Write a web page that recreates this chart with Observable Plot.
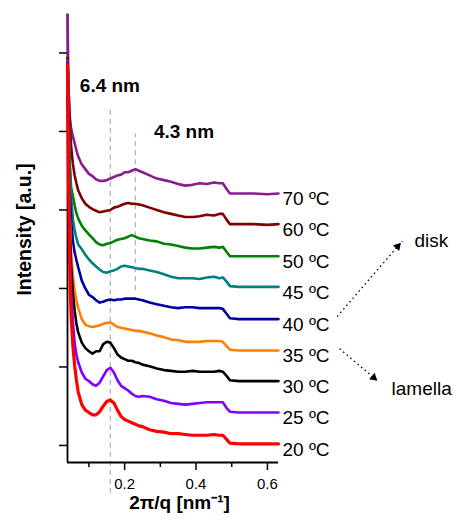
<!DOCTYPE html>
<html><head><meta charset="utf-8">
<script src="https://cdn.jsdelivr.net/npm/d3@7"></script>
<script src="https://cdn.jsdelivr.net/npm/@observablehq/plot@0.6"></script>
<style>body{margin:0;background:#fff}</style>
</head><body><div id="chart"></div>
<script>
// scattering vector axis (2π/q, nm^-1)
const q = [0.040, 0.043, 0.046, 0.050, 0.055, 0.060, 0.065, 0.070, 0.080, 0.090, 0.100, 0.110, 0.120, 0.130, 0.140, 0.150, 0.160, 0.170, 0.180, 0.190, 0.200, 0.210, 0.220, 0.230, 0.240, 0.250, 0.270, 0.290, 0.310, 0.330, 0.350, 0.370, 0.390, 0.410, 0.430, 0.450, 0.465, 0.475, 0.485, 0.495, 0.520, 0.560, 0.600, 0.631];

const temps = ["70 ºC", "60 ºC", "50 ºC", "45 ºC", "40 ºC", "35 ºC", "30 ºC", "25 ºC", "20 ºC"];
const colors = ["#8b1c8f", "#800000", "#008000", "#008080", "#0000a0", "#ff8000", "#000000", "#8000ff", "#ff0000"];

// intensities (a.u., stacked), one array per temperature
const I70 = [5.49, 4.52, 4.20, 4.04, 3.94, 3.85, 3.76, 3.68, 3.58, 3.52, 3.46, 3.43, 3.39, 3.37, 3.37, 3.38, 3.40, 3.42, 3.44, 3.45, 3.48, 3.48, 3.50, 3.52, 3.50, 3.48, 3.44, 3.40, 3.38, 3.36, 3.33, 3.31, 3.32, 3.34, 3.33, 3.35, 3.34, 3.34, 3.27, 3.21, 3.21, 3.21, 3.20, 3.21];
const I60 = [4.94, 4.52, 4.14, 3.82, 3.59, 3.44, 3.34, 3.25, 3.15, 3.08, 3.04, 3.01, 2.99, 2.97, 2.98, 2.99, 3.00, 3.03, 3.04, 3.06, 3.08, 3.09, 3.08, 3.08, 3.07, 3.06, 3.03, 3.00, 2.97, 2.95, 2.93, 2.91, 2.91, 2.92, 2.94, 2.93, 2.95, 2.95, 2.88, 2.82, 2.82, 2.82, 2.81, 2.82];
const I50 = [4.90, 4.27, 3.63, 3.29, 3.18, 3.06, 2.96, 2.89, 2.80, 2.74, 2.69, 2.64, 2.59, 2.56, 2.55, 2.57, 2.58, 2.60, 2.62, 2.63, 2.64, 2.66, 2.68, 2.66, 2.64, 2.63, 2.61, 2.60, 2.57, 2.56, 2.54, 2.52, 2.51, 2.51, 2.52, 2.53, 2.52, 2.53, 2.47, 2.41, 2.41, 2.41, 2.41, 2.41];
const I45 = [4.90, 4.14, 3.57, 3.18, 2.89, 2.74, 2.64, 2.56, 2.50, 2.43, 2.37, 2.32, 2.28, 2.24, 2.21, 2.20, 2.22, 2.23, 2.25, 2.28, 2.29, 2.28, 2.27, 2.26, 2.25, 2.25, 2.23, 2.21, 2.18, 2.15, 2.13, 2.13, 2.13, 2.12, 2.14, 2.15, 2.13, 2.14, 2.09, 2.03, 2.02, 2.02, 2.02, 2.02];
const I40 = [4.88, 3.89, 3.25, 2.87, 2.61, 2.46, 2.36, 2.27, 2.10, 2.00, 1.92, 1.89, 1.85, 1.82, 1.83, 1.85, 1.86, 1.85, 1.86, 1.86, 1.87, 1.87, 1.87, 1.87, 1.86, 1.85, 1.82, 1.80, 1.78, 1.76, 1.75, 1.76, 1.76, 1.75, 1.75, 1.75, 1.75, 1.74, 1.68, 1.62, 1.61, 1.61, 1.61, 1.61];
const I35 = [4.88, 3.76, 2.99, 2.48, 2.17, 1.97, 1.85, 1.75, 1.61, 1.54, 1.52, 1.51, 1.52, 1.53, 1.55, 1.56, 1.57, 1.54, 1.51, 1.50, 1.49, 1.48, 1.47, 1.46, 1.46, 1.45, 1.43, 1.40, 1.38, 1.35, 1.34, 1.32, 1.32, 1.32, 1.33, 1.33, 1.33, 1.32, 1.27, 1.22, 1.21, 1.21, 1.21, 1.21];
const I30 = [4.88, 3.63, 2.80, 2.29, 1.95, 1.72, 1.55, 1.44, 1.31, 1.24, 1.20, 1.17, 1.20, 1.20, 1.29, 1.32, 1.31, 1.24, 1.16, 1.12, 1.10, 1.08, 1.08, 1.06, 1.05, 1.03, 1.01, 0.98, 0.96, 0.95, 0.94, 0.94, 0.95, 0.94, 0.94, 0.94, 0.95, 0.94, 0.89, 0.83, 0.82, 0.82, 0.82, 0.82];
const I25 = [4.88, 3.50, 2.61, 1.97, 1.57, 1.31, 1.15, 1.06, 0.93, 0.85, 0.82, 0.78, 0.76, 0.80, 0.88, 0.96, 0.99, 0.93, 0.83, 0.76, 0.73, 0.70, 0.66, 0.63, 0.62, 0.63, 0.62, 0.59, 0.57, 0.54, 0.53, 0.52, 0.53, 0.54, 0.55, 0.55, 0.55, 0.55, 0.48, 0.43, 0.42, 0.42, 0.42, 0.42];
const I20 = [4.84, 3.38, 2.36, 1.66, 1.27, 1.02, 0.83, 0.68, 0.52, 0.45, 0.42, 0.39, 0.39, 0.43, 0.50, 0.56, 0.58, 0.54, 0.45, 0.37, 0.33, 0.31, 0.29, 0.27, 0.25, 0.24, 0.20, 0.18, 0.17, 0.15, 0.15, 0.14, 0.13, 0.13, 0.13, 0.14, 0.13, 0.13, 0.08, 0.03, 0.02, 0.02, 0.02, 0.02];
const series = [I70, I60, I50, I45, I40, I35, I30, I25, I20];

const xDomain = [0.04, 0.631];
const yDomain = [-0.217, 5.49];
const xMajor = [0.2, 0.4, 0.6];
const xMinor = [0.1, 0.3, 0.5];
const yTicks = [0, 1, 2, 3, 4, 5];

// peak guides (d = 6.4 nm and 4.3 nm)
const guides = [{q: 0.16, top: 4.32, bottom: -0.61}, {q: 0.23, top: 3.97, bottom: 1.97}];
const peakLabels = [{q: 0.0745, I: 4.58, text: "6.4 nm"}, {q: 0.282, I: 4.00, text: "4.3 nm"}];
const phases = [{q: 1.012, I: 2.60, text: "disk"}, {q: 0.9476, I: 0.715, text: "lamella"}];
const arrows = [{q1: 0.7955, I1: 1.643, q2: 0.9776, I2: 2.603, angle: 41}, {q1: 0.802, I1: 1.232, q2: 0.9048, I2: 0.837, angle: 130}];

const rows = temps.flatMap((t, k) => q.map((x, i) => ({q: x, I: series[k][i], T: t})));
const ends = temps.map((t, k) => ({q: q[q.length - 1], I: series[k][q.length - 1], T: t}));
const heads = arrows.map(a => ({q: a.q1 + 0.93 * (a.q2 - a.q1), I: a.I1 + 0.93 * (a.I2 - a.I1), angle: a.angle}));

const font = "'Liberation Sans', Arial, Helvetica, sans-serif";

const chart = Plot.plot({
  width: 454, height: 525,
  marginLeft: 67, marginRight: 176, marginTop: 14, marginBottom: 63,
  x: {domain: xDomain, label: null},
  y: {domain: yDomain, label: null},
  color: {domain: temps, range: colors},
  style: {fontFamily: font, fontSize: "15px", background: "#fff", color: "#000"},
  marks: [
    Plot.axisX({ticks: xMajor, tickSize: 8, tickPadding: 8, fontSize: 15, strokeWidth: 1.5, tickFormat: d => d.toFixed(1), label: null}),
    Plot.axisX({ticks: xMinor, tickSize: 5, strokeWidth: 1.5, tickFormat: () => "", label: null}),
    Plot.axisY({ticks: yTicks, tickSize: 8, strokeWidth: 1.5, tickFormat: () => "", label: null}),
    Plot.ruleX(guides, {x: "q", y1: "bottom", y2: "top", stroke: "#b4b4b4", strokeWidth: 1.3, strokeDasharray: "5,4"}),
    Plot.ruleX([xDomain[0]], {stroke: "#000", strokeWidth: 1.8}),
    Plot.ruleY([yDomain[0]], {stroke: "#000", strokeWidth: 1.8}),
    Plot.line(rows.filter(d => d.T !== "20 ºC"), {x: "q", y: "I", z: "T", stroke: "T", strokeWidth: 2.6}),
    Plot.line(rows.filter(d => d.T === "20 ºC"), {x: "q", y: "I", z: "T", stroke: "T", strokeWidth: 3.2}),
    Plot.text(ends, {x: "q", y: "I", text: "T", textAnchor: "start", dx: 4, dy: 5.6, fontSize: 19, fill: "#000"}),
    Plot.text(peakLabels, {x: "q", y: "I", text: "text", textAnchor: "start", fontSize: 19, fontWeight: "bold", fill: "#000"}),
    Plot.text(phases, {x: "q", y: "I", text: "text", textAnchor: "start", fontSize: 19, fill: "#000"}),
    Plot.link(arrows, {x1: "q1", y1: "I1", x2: "q2", y2: "I2", stroke: "#000", strokeWidth: 1.3, strokeDasharray: "1.5,3.2"}),
    Plot.dot(heads, {x: "q", y: "I", symbol: "triangle2", r: 4, fill: "#000", rotate: "angle"}),
    Plot.text(["Intensity [a.u.]"], {frameAnchor: "left", textAnchor: "middle", rotate: -90, dx: -43, dy: -9, fontSize: 19.5, fontWeight: "bold", fill: "#000"}),
    Plot.text(["2π/q [nm⁻¹]"], {frameAnchor: "bottom", textAnchor: "middle", dx: 6.5, dy: 46, fontSize: 19, fontWeight: "bold", fill: "#000"})
  ]
});
document.getElementById("chart").append(chart);
</script>
</body></html>
